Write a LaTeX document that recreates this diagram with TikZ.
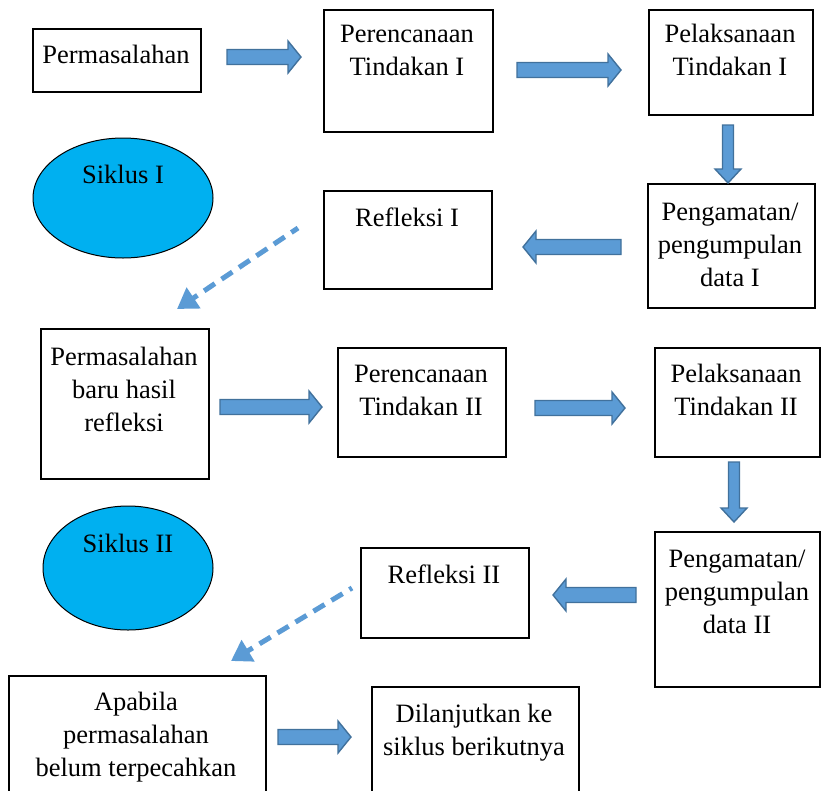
\documentclass[tikz,border=0pt]{standalone}
\usepackage{fontspec}
\setmainfont{Liberation Serif}
\usetikzlibrary{arrows.meta,shapes.geometric}
\definecolor{arrfill}{HTML}{5B9BD5}
\definecolor{arredge}{HTML}{41719C}
\definecolor{cyanfill}{HTML}{00B0F0}
\tikzset{
  box/.style={draw=black, line width=1.6pt},
  txt/.style={anchor=north, inner sep=0pt, align=center, font=\fontsize{26.5}{33}\selectfont},
  barrow/.style={fill=arrfill, draw=arredge, line width=1.4pt, line join=miter},
  oval/.style={ellipse, draw=black, line width=1pt, fill=cyanfill, inner sep=0pt},
  dasharrow/.style={draw=arrfill, line width=5pt, dash pattern=on 13pt off 8pt,
     -{Triangle[length=20pt 0,width=24pt 0]}},
}
% right arrow: x1, x2 (tip), yc
\newcommand\harr[3]{\draw[barrow] ({#1},{#3-7.5}) -- ({#2-13},{#3-7.5}) -- ({#2-13},{#3-16}) -- ({#2},{#3}) -- ({#2-13},{#3+16}) -- ({#2-13},{#3+7.5}) -- ({#1},{#3+7.5}) -- cycle;}
% left arrow: x1 (tail), x2 (tip), yc
\newcommand\larr[3]{\draw[barrow] ({#1},{#3-7.5}) -- ({#2+13},{#3-7.5}) -- ({#2+13},{#3-16}) -- ({#2},{#3}) -- ({#2+13},{#3+16}) -- ({#2+13},{#3+7.5}) -- ({#1},{#3+7.5}) -- cycle;}
% down arrow: xc, y1, y2 (tip)
\newcommand\darr[3]{\draw[barrow] ({#1-5.5},{#2}) -- ({#1-5.5},{#3-14}) -- ({#1-13},{#3-14}) -- ({#1},{#3}) -- ({#1+13},{#3-14}) -- ({#1+5.5},{#3-14}) -- ({#1+5.5},{#2}) -- cycle;}
\newcommand\boxat[5]{\node[box, minimum width={(#4-#2)*1pt}, minimum height={(#5-#3)*1pt}, inner sep=0pt, anchor=north west] (#1) at (#2,#3) {};}
\begin{document}
\begin{tikzpicture}[x=1pt,y=-1pt]
\useasboundingbox (0,0) rectangle (821,790);
\clip (0,0) rectangle (821,790);
\fill[white] (0,0) rectangle (821,790);

% boxes
\boxat{b1}{32}{28}{200}{91}
\boxat{b2}{323}{9}{492}{131}
\boxat{b3}{648}{9}{812}{114}
\boxat{b4}{647}{183}{814}{307}
\boxat{b5}{323}{190}{491}{288}
\boxat{b6}{40}{328}{208}{478}
\boxat{b7}{337}{347}{505}{456}
\boxat{b8}{654}{347}{819}{456}
\boxat{b9}{654}{531}{819}{686}
\boxat{b10}{360}{547}{528}{637}
\boxat{b11}{8}{675}{265}{800}
\boxat{b12}{371}{686}{578}{800}

% ellipses
\node[oval, minimum width=180pt, minimum height=120pt] (e1) at (123,198) {};
\node[oval, minimum width=170pt, minimum height=124pt] (e2) at (128,568) {};

% texts (north = baseline - 23.1)
\node[txt] (t1) at (116,{63-23.1}) {\strut Permasalahan};
\node[txt] (t2) at (407,{42-23.1}) {\strut Perencanaan\\Tindakan I};
\node[txt] (t3) at (730,{42-23.1}) {\strut Pelaksanaan\\Tindakan I};
\node[txt] (t4) at (730,{220-23.1}) {\strut Pengamatan/\\pengumpulan\\data I};
\node[txt] (t5) at (407,{226-23.1}) {\strut Refleksi I};
\node[txt] (t6) at (124,{365-23.1}) {\strut Permasalahan\\baru hasil\\refleksi};
\node[txt] (t7) at (421,{382-23.1}) {\strut Perencanaan\\Tindakan II};
\node[txt] (t8) at (736,{382-23.1}) {\strut Pelaksanaan\\Tindakan II};
\node[txt] (t9) at (737,{567-23.1}) {\strut Pengamatan/\\pengumpulan\\data II};
\node[txt] (t10) at (444,{583-23.1}) {\strut Refleksi II};
\node[txt] (t11) at (136,{710-23.1}) {\strut Apabila\\permasalahan\\belum terpecahkan};
\node[txt] (t12) at (474,{722-23.1}) {\strut Dilanjutkan ke\\siklus berikutnya};
\node[txt] (s1) at (123,{183-23.1}) {\strut Siklus I};
\node[txt] (s2) at (128,{552-23.1}) {\strut Siklus II};

% block arrows
\harr{227}{301}{57}
\harr{517}{621}{70}
\darr{728}{125}{183}
\larr{621}{523}{247}
\harr{220}{322}{407}
\harr{535}{625}{408}
\darr{734}{462}{522}
\larr{636}{553}{595}
\harr{278}{351}{737}

% dashed arrows
\coordinate (d1s) at (298,228);
\coordinate (d1e) at (177,309);
\coordinate (d2s) at (352,588);
\coordinate (d2e) at (231,661);
\draw[dasharrow, dash phase=5pt] (d1s) -- (d1e);
\draw[dasharrow, dash phase=10pt] (d2s) -- (d2e);
\end{tikzpicture}
\end{document}
